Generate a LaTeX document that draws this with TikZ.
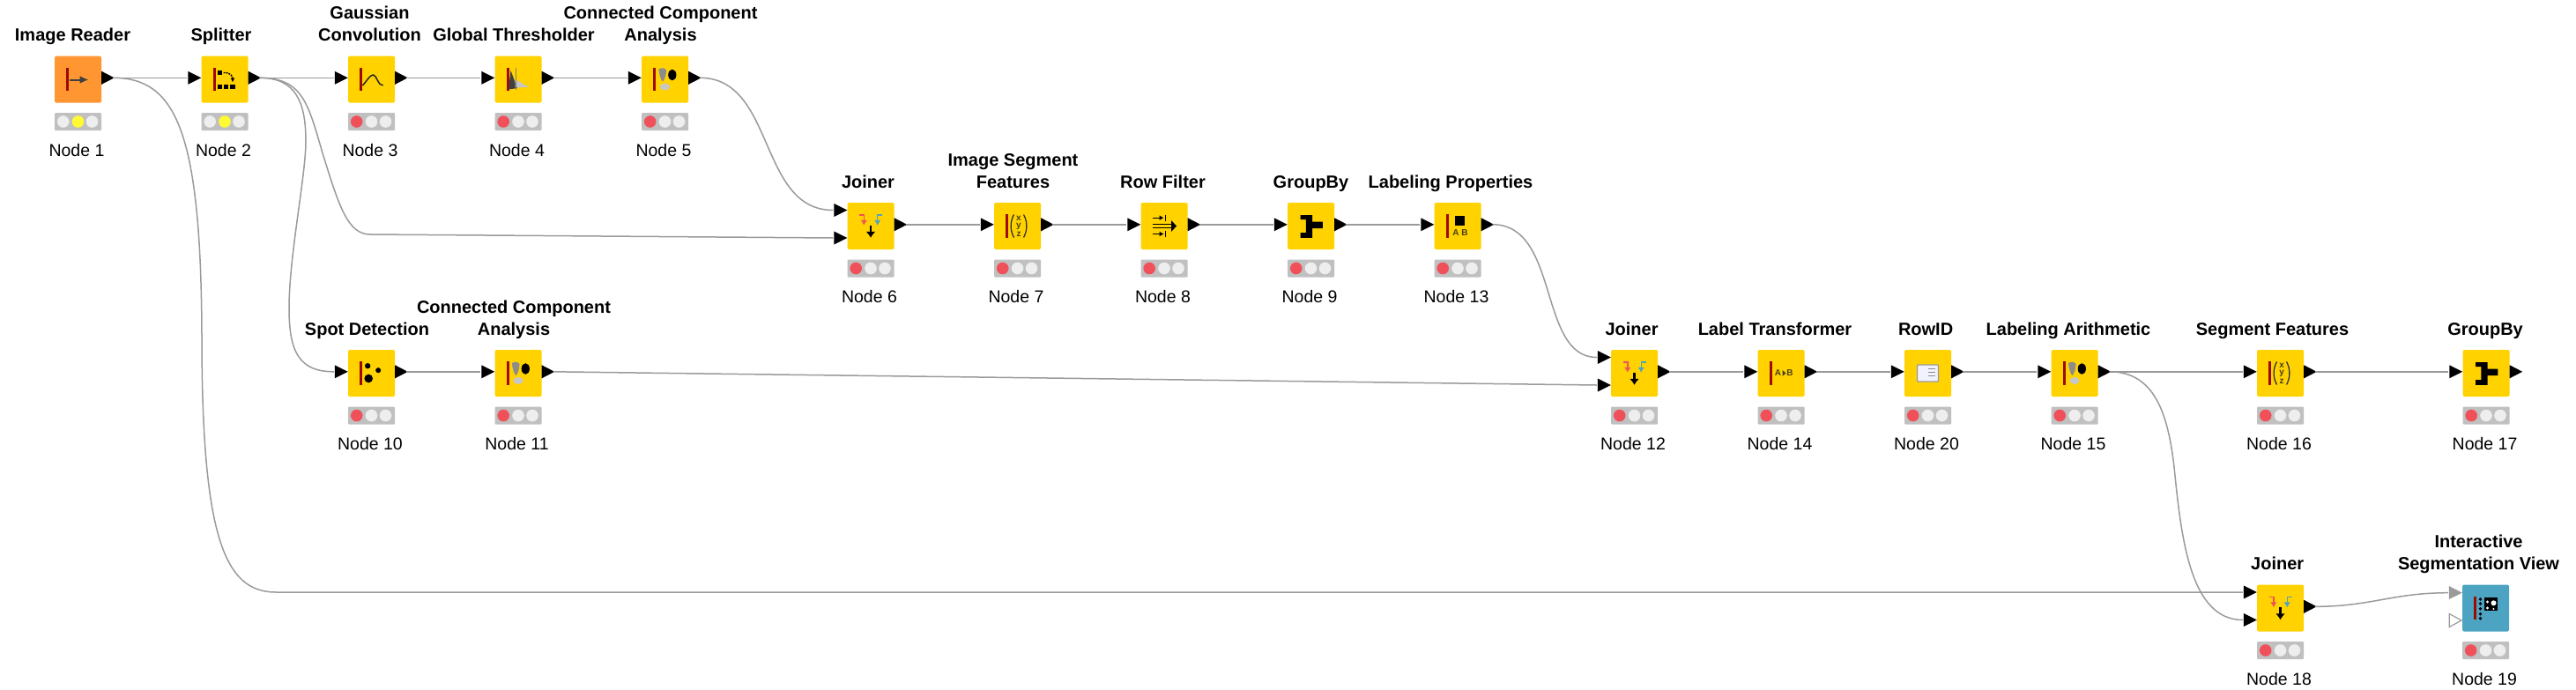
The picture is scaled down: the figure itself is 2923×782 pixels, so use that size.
\documentclass[tikz,border=0pt]{standalone}
\usepackage{fontspec}
\usetikzlibrary{arrows.meta}
\setmainfont{Liberation Sans}
\definecolor{nodeyellow}{HTML}{FFD200}
\definecolor{nodeorange}{HTML}{FF9632}
\definecolor{nodeblue}{HTML}{4CA3C2}
\definecolor{barred}{HTML}{9C0A00}
\definecolor{wiregray}{HTML}{9A9A9A}
\definecolor{lightred}{HTML}{F0505A}
\definecolor{lightyellow}{HTML}{FFFA33}
\definecolor{lightoff}{HTML}{EEEEEE}
\definecolor{lightbar}{HTML}{C0C0C0}
\definecolor{icontext}{HTML}{4A3F10}
\newcommand{\statuslights}[3]{
	\node[lightbox] (s#1) at ([yshift=-48pt]#1.center) {};
	\node[lamp,fill=#2] (sa#1) at ([xshift=-16.8pt]s#1.center) {};
	\node[lamp,fill=#3] (sb#1) at (s#1.center) {};
	\node[lamp,fill=lightoff] (sc#1) at ([xshift=16pt]s#1.center) {};
}
\tikzset{
	kbox/.style={fill=nodeyellow,rounded corners=1.5pt,minimum size=53pt,inner sep=0pt},
	lightbox/.style={fill=lightbar,rounded corners=1pt,minimum width=53pt,minimum height=20pt,inner sep=0pt},
	lamp/.style={circle,minimum size=13.6pt,inner sep=0pt},
	title/.style={font=\fontsize{20}{25}\selectfont\bfseries,align=center,anchor=south,inner sep=0pt,text depth=0pt},
	caption/.style={font=\fontsize{19.5}{24}\selectfont,anchor=base,inner sep=0pt},
	link/.style={draw=wiregray,line width=1.5pt},
	tiny/.style={font=\fontsize{10}{10}\selectfont\bfseries,text=icontext,inner sep=0pt},
	inport/.pic={\fill (-15,-7.5) -- (0,0) -- (-15,7.5) -- cycle; \coordinate (-back) at (-16,0);},
	outport/.pic={\fill (0,-7.5) -- (14.5,0) -- (0,7.5) -- cycle; \coordinate (-tip) at (13,0);},
	iconbar/.pic={\fill[barred] (-13.5,-13.3) rectangle (-10.5,13.3);},
	readericon/.pic={\pic {iconbar}; \draw[line width=2pt,draw=black!75,-{Latex[length=10pt,width=9pt]}] (-10,0.5) -- (12,0.5);},
	splittericon/.pic={\pic {iconbar};
		\fill (-8.5,-10) rectangle (-3,-4.7);
		\foreach \x in {-8.5,-1,6.3} {\fill (\x,5.8) rectangle ++(5.4,5.4);}
		\draw[line width=1.4pt,dash pattern=on 2pt off 1pt,-{Latex[length=5pt,width=5pt]}] (-1.5,-7.5) .. controls (6,-8) and (9,-4) .. (9,3.5);},
	gaussicon/.pic={\pic {iconbar};
		\draw[line width=1.5pt,draw=black!85] (-10,7) .. controls (-6,3) and (-2,-5) .. (2,-5) .. controls (6,-5) and (7,7) .. (13,7);},
	threshicon/.pic={\fill[barred] (-13.5,-13.3) rectangle (-10.5,13.3);
		\fill[black!75] (-11,11.5) -- (-8.5,-10) -- (-1,10) -- cycle;
		\fill[black!22] (-3.5,0) -- (12,9) -- (-3.5,9) -- cycle;
		\draw[black!50,line width=0.8pt] (-2.5,-12.7) -- (-2.5,11.7);},
	blobicon/.pic={\pic {iconbar};
		\fill[black!45] (-7,-11.5) .. controls (-4,-13.5) and (1,-13) .. (1.5,-10) .. controls (1.5,-5) and (-1,2) .. (-2.5,2.5) .. controls (-4.5,2) and (-7,-7) .. (-7,-11.5);
		\fill (8.3,-5) ellipse (4.6pt and 6.3pt);
		\fill[black!22] (0,8.5) ellipse (5.5pt and 4pt);},
	joinicon/.pic={
		\draw[line width=1.4pt,draw=lightred,-{Latex[length=6pt,width=7.5pt]}] (-13,-12.7) -- (-7.7,-12.7) -- (-7.7,-0.7);
		\draw[line width=1.4pt,draw=nodeblue,-{Latex[length=6pt,width=7.5pt]}] (13,-12.7) -- (7.7,-12.7) -- (7.7,-0.7);
		\draw[line width=2.3pt,-{Latex[length=7pt,width=11pt]}] (0,-1) -- (0,13.3);},
	featicon/.pic={\pic {iconbar};
		\draw[line width=1.3pt,draw=black!80] (-4,-13) .. controls (-8.5,-5) and (-8.5,5) .. (-4,13);
		\draw[line width=1.3pt,draw=black!80] (7,-13) .. controls (11.5,-5) and (11.5,5) .. (7,13);
		\node[tiny] (-x) at (1.5,-9) {x};
		\node[tiny] (-y) at (1.5,0) {y};
		\node[tiny] (-z) at (1.5,9.5) {z};},
	filtericon/.pic={
		\foreach \y in {-9.3,9} {
			\draw[line width=1.4pt,-{Latex[length=5pt,width=6pt]}] (-12.6,\y) -- (-0.5,\y);
			\draw[line width=1.4pt] (1.5,\y-3.5) -- (1.5,\y+3.5);}
		\draw[line width=1.4pt] (-12.6,-2) -- (9,-2);
		\draw[line width=1.4pt] (-12.6,2) -- (9,2);
		\fill (8,-6.5) -- (14,0) -- (8,6.5) -- cycle;},
	groupicon/.pic={\fill (-12,-12.3) -- (1.7,-12.3) -- (1.7,-5) -- (13.3,-5) -- (13.3,2.7) -- (1.7,2.7) -- (1.7,13.3) -- (-12,13.3) -- (-12,7.7) -- (-5.6,7.7) -- (-5.6,-7.3) -- (-12,-7.3) -- cycle;},
	propicon/.pic={\pic {iconbar};
		\fill (-3,-12) rectangle (8,-1);
		\node[tiny] (-ab) at (3,8) {A B};},
	transicon/.pic={\fill[barred] (-13.5,-13.3) rectangle (-10.5,13.3);
		\node[tiny] (-a) at (-3.5,0) {A};
		\node[tiny] (-b) at (10,0) {B};
		\fill[icontext] (1.5,-3.5) -- (5.5,0) -- (1.5,3.5) -- cycle;},
	idicon/.pic={
		\draw[line width=1.4pt,draw=black!40,fill=blue!5,rounded corners=1pt] (-12,-9.5) rectangle (12,9.5);
		\foreach \y in {-5,-1,3} {\draw[line width=1.1pt,draw=black!45] (0,\y) -- (8,\y);}},
	spoticon/.pic={\pic {iconbar};
		\fill (-4.3,-8.3) circle (3.2pt);
		\fill (7.7,-3.3) circle (3pt);
		\fill (-3.3,6) circle (4.8pt);},
	viewicon/.pic={\pic {iconbar};
		\foreach \y in {-10,-5,0.7,6.7,11.7} {\fill (-6,\y) circle (1.9pt);}
		\fill (-1.7,-11.7) rectangle (13,3.3);
		\fill[white] (9,-5.7) circle (3pt);
		\fill[white] (2,-7) circle (1.6pt);
		\fill[white] (2,0) circle (1.6pt);
		\fill[white] (9,1) circle (1.2pt);},
}

\begin{document}
\begin{tikzpicture}[x=1pt,y=-1pt,node distance=166.5pt]
	\useasboundingbox (0,0) rectangle (2923,782);

	\node[kbox,fill=nodeorange] (1) at (88.5,90) {};
	\node[kbox] (2) [right of=1] {};
	\node[kbox] (3) [right of=2] {};
	\node[kbox] (4) [right of=3] {};
	\node[kbox] (5) [right of=4] {};
	\node[kbox] (6) at (988,256.5) {};
	\node[kbox] (7) [right of=6] {};
	\node[kbox] (8) [right of=7] {};
	\node[kbox] (9) [right of=8] {};
	\node[kbox] (13) [right of=9] {};
	\node[kbox] (10) [below of=3,node distance=333.5pt] {};
	\node[kbox] (11) [right of=10] {};
	\node[kbox] (12) at (1854.5,423.5) {};
	\node[kbox] (14) [right of=12] {};
	\node[kbox] (20) [right of=14] {};
	\node[kbox] (15) [right of=20] {};
	\node[kbox] (16) [right of=15,node distance=233.5pt] {};
	\node[kbox] (17) [right of=16,node distance=233.5pt] {};
	\node[kbox] (18) [below of=16,node distance=266.5pt] {};
	\node[kbox,fill=nodeblue] (19) [right of=18,node distance=233pt] {};

	\foreach \n/\dx/\txt in {1/-6/Image Reader,2/-4/Splitter,3/-2/{Gaussian\\Convolution},4/-5/Global Thresholder,
		5/-5/{Connected Component\\Analysis},6/-3/Joiner,7/-5/{Image Segment\\Features},8/-1.5/Row Filter,9/0/GroupBy,
		13/-8/Labeling Properties,10/-5/Spot Detection,11/-5/{Connected Component\\Analysis},12/-3/Joiner,
		14/-7/Label Transformer,20/-2.4/RowID,15/-7/Labeling Arithmetic,16/-9/Segment Features,17/-1/GroupBy,
		18/-3.3/Joiner,19/-8/{Interactive\\Segmentation View}}
		{\node[title] (t\n) at ([xshift=\dx pt,yshift=43.3pt]\n.center) {\txt};}

	\foreach \n in {1,...,20}
		{\node[caption] (c\n) at ([xshift=-1.5pt,yshift=-87pt]\n.center) {Node \n};}

	\foreach \n in {1,2}
		{\statuslights{\n}{lightoff}{lightyellow}}
	\foreach \n in {3,...,20}
		{\statuslights{\n}{lightred}{lightoff}}

	\pic (k1) at (1) {readericon};
	\pic (k2) at (2) {splittericon};
	\pic (k3) at (3) {gaussicon};
	\pic (k4) at (4) {threshicon};
	\pic (k5) at (5) {blobicon};
	\pic (k6) at (6) {joinicon};
	\pic (k7) at (7) {featicon};
	\pic (k8) at (8) {filtericon};
	\pic (k9) at (9) {groupicon};
	\pic (k13) at (13) {propicon};
	\pic (k10) at (10) {spoticon};
	\pic (k11) at (11) {blobicon};
	\pic (k12) at (12) {joinicon};
	\pic (k14) at (14) {transicon};
	\pic (k20) at (20) {idicon};
	\pic (k15) at (15) {blobicon};
	\pic (k16) at (16) {featicon};
	\pic (k17) at (17) {groupicon};
	\pic (k18) at (18) {joinicon};
	\pic (k19) at (19) {viewicon};

	\foreach \n in {2,3,4,5,7,8,9,13,10,11,14,20,15,16,17}
		{\pic (i\n) at ([yshift=1.7pt]\n.west) {inport};}
	\foreach \n in {6,12,18} {
		\pic (i\n a) at ([yshift=18pt]\n.west) {inport};
		\pic (i\n b) at ([yshift=-13.5pt]\n.west) {inport};
	}
	\foreach \n in {1,2,3,4,5,6,7,8,9,13,10,11,12,14,20,15,16,17,18}
		{\pic (o\n) at ([yshift=1.7pt]\n.east) {outport};}
	\fill[wiregray] ([xshift=-15pt,yshift=25pt]19.west) -- ([yshift=17.3pt]19.west) -- ([xshift=-15pt,yshift=10pt]19.west) -- cycle;
	\draw[wiregray,line width=1.2pt] ([xshift=-14.5pt,yshift=-6.5pt]19.west) -- ([xshift=-0.8pt,yshift=-14pt]19.west) -- ([xshift=-14.5pt,yshift=-21.5pt]19.west) -- cycle;
	\coordinate (i19a-back) at ([xshift=-16pt,yshift=17.3pt]19.west);

	\coordinate (bend1) at (229,380);
	\coordinate (bend2) at (347,160);
	\coordinate (bend3) at (328,350);
	\coordinate (bend4) at (367,177);
	\coordinate (bend5) at (420,266);
	\coordinate (bend6) at (2467,530);

	\draw[link] (o1-tip) to (i2-back);
	\draw[link] (o2-tip) to (i3-back);
	\draw[link] (o3-tip) to (i4-back);
	\draw[link] (o4-tip) to (i5-back);
	\draw[link] (o6-tip) to (i7-back);
	\draw[link] (o7-tip) to (i8-back);
	\draw[link] (o8-tip) to (i9-back);
	\draw[link] (o9-tip) to (i13-back);
	\draw[link] (o10-tip) to (i11-back);
	\draw[link] (o11-tip) to (i12b-back);
	\draw[link] (o12-tip) to (i14-back);
	\draw[link] (o14-tip) to (i20-back);
	\draw[link] (o20-tip) to (i15-back);
	\draw[link] (o15-tip) to (i16-back);
	\draw[link] (o16-tip) to (i17-back);
	\draw[link] (o5-tip) .. controls (880,88.3) and (860,238.5) .. (i6a-back);
	\draw[link] (o13-tip) .. controls (1770,254.8) and (1745,405.5) .. (i12a-back);
	\draw[link] (o18-tip) .. controls (2690,688.3) and (2715,672.7) .. (i19a-back);
	\draw[link] (o1-tip) .. controls (200,88.3) and (228,150) .. (bend1) .. controls (229,610) and (255,672) .. (313,672) to (i18a-back);
	\draw[link] (o2-tip) .. controls (335,88.3) and (347,115) .. (bend2) .. controls (347,200) and (328,290) .. (bend3) .. controls (328,400) and (340,421.8) .. (i10-back);
	\draw[link] (o2-tip) .. controls (345,88.3) and (350,120) .. (bend4) .. controls (385,235) and (395,266) .. (bend5) to (i6b-back);
	\draw[link] (o15-tip) .. controls (2445,421.8) and (2460,470) .. (bend6) .. controls (2475,610) and (2485,703.5) .. (i18b-back);
\end{tikzpicture}
\end{document}
